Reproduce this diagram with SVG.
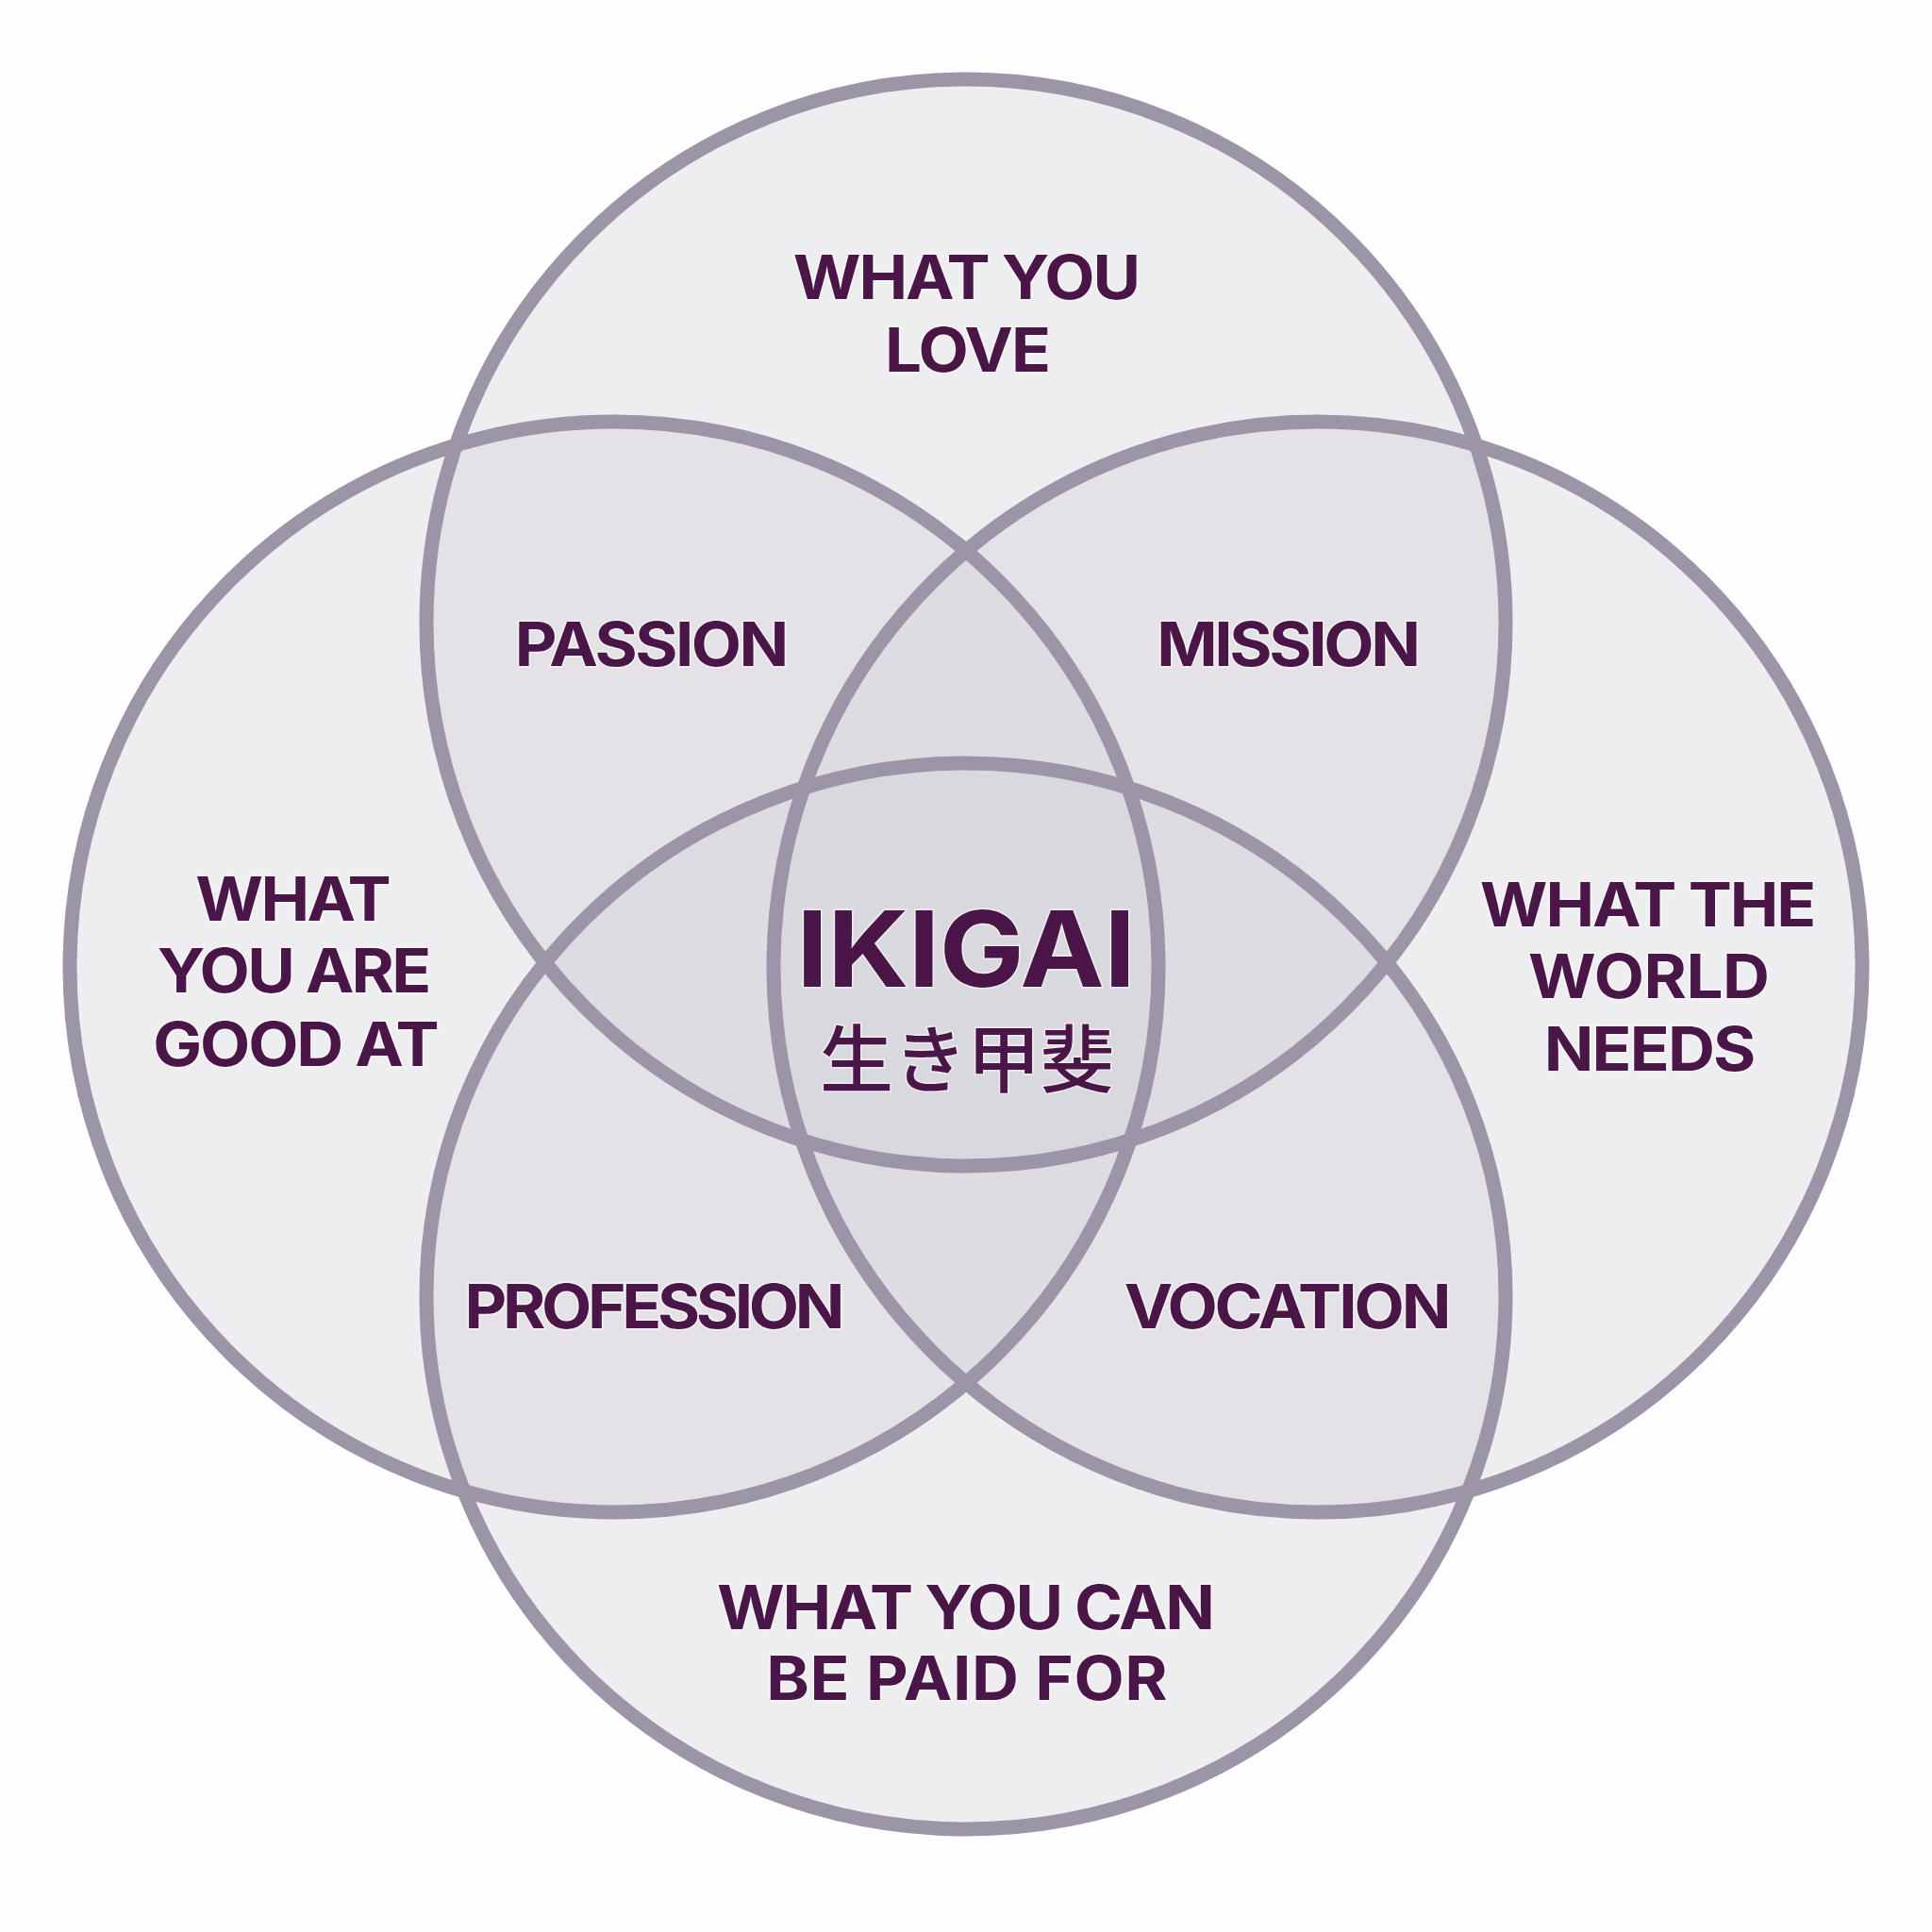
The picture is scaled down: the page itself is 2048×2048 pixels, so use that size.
<svg xmlns="http://www.w3.org/2000/svg" width="2048" height="2048" viewBox="0 0 2048 2048">
  <style>
    .fill { fill: #d3d0da; fill-opacity: 0.37; stroke: none; }
    .ring { fill: none; stroke: #9c94a7; stroke-width: 15; }
    .lbl { font-family: Inter, "Liberation Sans", sans-serif; font-weight: 700; font-size: 64px; fill: #4a1547; text-anchor: middle; stroke: #ffffff; stroke-opacity: 0.55; stroke-width: 3; paint-order: stroke; }
    .big { font-size: 111px; }
    .jp { font-family: "Noto Sans CJK JP", sans-serif; font-weight: 500; font-size: 78px; fill: #4a1547; text-anchor: middle; stroke: #ffffff; stroke-opacity: 0.55; stroke-width: 3; paint-order: stroke; }
  </style>
  <rect width="2048" height="2048" fill="#fefefe"/>

  <g id="fills">
    <ellipse class="fill" cx="1024" cy="660" rx="572" ry="576"/>
    <ellipse class="fill" cx="651" cy="1025" rx="577" ry="578"/>
    <ellipse class="fill" cx="1397" cy="1025" rx="577" ry="578"/>
    <ellipse class="fill" cx="1024" cy="1374" rx="572" ry="565"/>
  </g>

  <g id="circle-love">
    <ellipse class="ring" cx="1024" cy="660" rx="572" ry="576"/>
    <text class="lbl" transform="translate(1025 317) scale(1.08 1)" x="0" y="0" textLength="341" lengthAdjust="spacing">WHAT YOU</text>
    <text class="lbl" transform="translate(1026 394) scale(1.08 1)" x="0" y="0" textLength="163" lengthAdjust="spacing">LOVE</text>
  </g>
  <g id="circle-good-at">
    <ellipse class="ring" cx="651" cy="1025" rx="577" ry="578"/>
    <text class="lbl" transform="translate(311 976) scale(1.08 1)" x="0" y="0" textLength="192" lengthAdjust="spacing">WHAT</text>
    <text class="lbl" transform="translate(312 1052) scale(1.08 1)" x="0" y="0" textLength="269" lengthAdjust="spacing">YOU ARE</text>
    <text class="lbl" transform="translate(314 1130) scale(1.08 1)" x="0" y="0" textLength="281" lengthAdjust="spacing">GOOD AT</text>
  </g>
  <g id="circle-world-needs">
    <ellipse class="ring" cx="1397" cy="1025" rx="577" ry="578"/>
    <text class="lbl" transform="translate(1747 982) scale(1.08 1)" x="0" y="0" textLength="330" lengthAdjust="spacing">WHAT THE</text>
    <text class="lbl" transform="translate(1748 1058) scale(1.08 1)" x="0" y="0" textLength="237" lengthAdjust="spacing">WORLD</text>
    <text class="lbl" transform="translate(1749 1135) scale(1.08 1)" x="0" y="0" textLength="208" lengthAdjust="spacing">NEEDS</text>
  </g>
  <g id="circle-paid-for">
    <ellipse class="ring" cx="1024" cy="1374" rx="572" ry="565"/>
    <text class="lbl" transform="translate(1024 1727) scale(1.08 1)" x="0" y="0" textLength="489" lengthAdjust="spacing">WHAT YOU CAN</text>
    <text class="lbl" transform="translate(1025 1802) scale(1.08 1)" x="0" y="0" textLength="394" lengthAdjust="spacing">BE PAID FOR</text>
  </g>

  <g id="passion"><text class="lbl" transform="translate(691 706) scale(1.08 1)" x="0" y="0" textLength="269" lengthAdjust="spacing">PASSION</text></g>
  <g id="mission"><text class="lbl" transform="translate(1366 706) scale(1.08 1)" x="0" y="0" textLength="259" lengthAdjust="spacing">MISSION</text></g>
  <g id="profession"><text class="lbl" transform="translate(694 1408) scale(1.08 1)" x="0" y="0" textLength="373" lengthAdjust="spacing">PROFESSION</text></g>
  <g id="vocation"><text class="lbl" transform="translate(1365 1408) scale(1.08 1)" x="0" y="0" textLength="321" lengthAdjust="spacing">VOCATION</text></g>

  <g id="ikigai">
    <text class="lbl big" transform="translate(1024 1046) scale(1.08 1)" x="0" y="0" textLength="333" lengthAdjust="spacing">IKIGAI</text>
    <text class="jp" x="1025" y="1152">生き甲斐</text>
  </g>
  <g id="connectors"/>
</svg>
